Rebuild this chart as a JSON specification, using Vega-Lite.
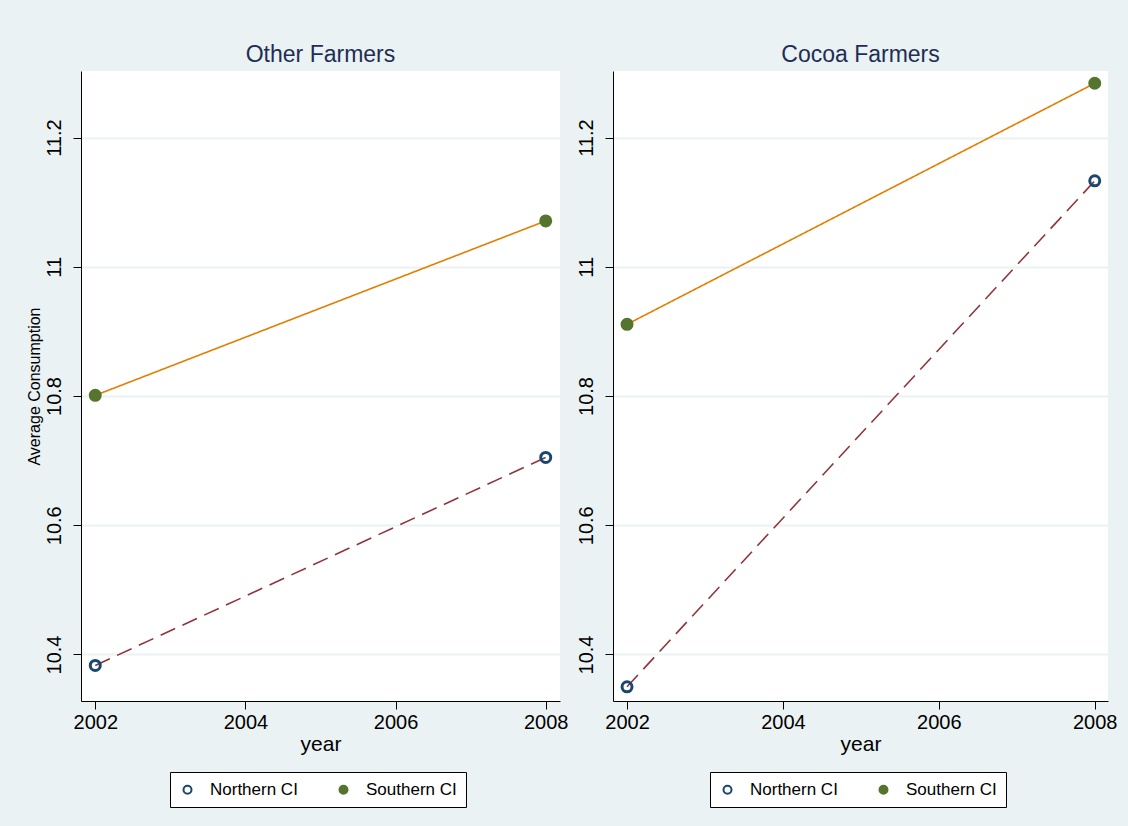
{
  "$schema": "https://vega.github.io/schema/vega-lite/v6.json",
  "background": "#eaf2f3",
  "padding": {"left": 26, "top": 44, "right": 16, "bottom": 20},
  "datasets": {
    "d": [
      {"panel": "Other Farmers", "group": "Northern CI", "year": 2002, "value": 10.383},
      {"panel": "Other Farmers", "group": "Northern CI", "year": 2008, "value": 10.705},
      {"panel": "Other Farmers", "group": "Southern CI", "year": 2002, "value": 10.801},
      {"panel": "Other Farmers", "group": "Southern CI", "year": 2008, "value": 11.071},
      {"panel": "Cocoa Farmers", "group": "Northern CI", "year": 2002, "value": 10.350},
      {"panel": "Cocoa Farmers", "group": "Northern CI", "year": 2008, "value": 11.133},
      {"panel": "Cocoa Farmers", "group": "Southern CI", "year": 2002, "value": 10.911},
      {"panel": "Cocoa Farmers", "group": "Southern CI", "year": 2008, "value": 11.284}
    ]
  },
  "config": {
    "font": "Liberation Sans",
    "view": {"fill": "white", "stroke": null},
    "title": {"fontSize": 23, "fontWeight": "normal", "color": "#1e2e55", "offset": 4},
    "axis": {
      "domainColor": "#000", "tickColor": "#000", "tickSize": 8, "labelColor": "#000",
      "labelFontSize": 20, "titleFontWeight": "normal", "titleColor": "#000"
    },
    "legend": {
      "orient": "none", "direction": "horizontal", "strokeColor": "#000", "fillColor": "white",
      "padding": 9, "columnPadding": 37, "labelFontSize": 17, "labelColor": "#000",
      "symbolSize": 64, "symbolStrokeWidth": 2, "labelOffset": 14
    }
  },
  "resolve": {
    "scale": {"fill": "independent", "stroke": "independent", "color": "independent", "strokeDash": "independent"},
    "legend": {"fill": "independent", "stroke": "independent"}
  },
  "spacing": 8,
  "hconcat": [
    {
      "title": "Other Farmers",
      "width": 479, "height": 630,
      "data": {"name": "d"},
      "transform": [{"filter": "datum.panel === 'Other Farmers'"}],
      "encoding": {
        "x": {"field": "year", "type": "quantitative",
              "scale": {"domain": [2001.81, 2008.19], "nice": false, "zero": false},
              "axis": {"values": [2002, 2004, 2006, 2008], "format": "d", "grid": false, "title": "year", "titleFontSize": 21, "labelPadding": 3, "titlePadding": 1}},
        "y": {"field": "value", "type": "quantitative",
              "scale": {"domain": [10.328, 11.303], "nice": false, "zero": false},
              "axis": {"values": [10.4, 10.6, 10.8, 11, 11.2], "format": "~g", "labelAngle": 270, "labelAlign": "center", "labelBaseline": "bottom", "labelPadding": 9,
                       "grid": true, "gridColor": "#eaf2f3", "gridWidth": 2,
                       "title": "Average Consumption", "titleFontSize": 16, "titlePadding": 2}}
      },
      "layer": [
        {"mark": {"type": "line", "strokeWidth": 1.6},
         "encoding": {
           "color": {"field": "group", "type": "nominal", "scale": {"domain": ["Southern CI", "Northern CI"], "range": ["#e37e00", "#90353b"]}, "legend": null},
           "strokeDash": {"field": "group", "type": "nominal", "scale": {"domain": ["Southern CI", "Northern CI"], "range": [[1, 0], [16, 8]]}, "legend": null}
         }},
        {"mark": {"type": "point", "shape": "circle", "filled": true, "size": 100, "strokeWidth": 3, "opacity": 1},
         "encoding": {
           "fill": {"field": "group", "type": "nominal", "scale": {"domain": ["Northern CI", "Southern CI"], "range": ["transparent", "#55752f"]}, "legend": {"title": null, "legendX": 89, "legendY": 701}},
           "stroke": {"field": "group", "type": "nominal", "scale": {"domain": ["Northern CI", "Southern CI"], "range": ["#1a476f", "#55752f"]}, "legend": {"title": null, "legendX": 89, "legendY": 701}}
         }}
      ]
    },
    {
      "title": "Cocoa Farmers",
      "width": 495, "height": 630,
      "data": {"name": "d"},
      "transform": [{"filter": "datum.panel === 'Cocoa Farmers'"}],
      "encoding": {
        "x": {"field": "year", "type": "quantitative",
              "scale": {"domain": [2001.82, 2008.17], "nice": false, "zero": false},
              "axis": {"values": [2002, 2004, 2006, 2008], "format": "d", "grid": false, "title": "year", "titleFontSize": 21, "labelPadding": 3, "titlePadding": 1}},
        "y": {"field": "value", "type": "quantitative",
              "scale": {"domain": [10.328, 11.303], "nice": false, "zero": false},
              "axis": {"values": [10.4, 10.6, 10.8, 11, 11.2], "format": "~g", "labelAngle": 270, "labelAlign": "center", "labelBaseline": "bottom", "labelPadding": 9,
                       "grid": true, "gridColor": "#eaf2f3", "gridWidth": 2, "title": null}}
      },
      "layer": [
        {"mark": {"type": "line", "strokeWidth": 1.6},
         "encoding": {
           "color": {"field": "group", "type": "nominal", "scale": {"domain": ["Southern CI", "Northern CI"], "range": ["#e37e00", "#90353b"]}, "legend": null},
           "strokeDash": {"field": "group", "type": "nominal", "scale": {"domain": ["Southern CI", "Northern CI"], "range": [[1, 0], [16, 8]]}, "legend": null}
         }},
        {"mark": {"type": "point", "shape": "circle", "filled": true, "size": 100, "strokeWidth": 3, "opacity": 1},
         "encoding": {
           "fill": {"field": "group", "type": "nominal", "scale": {"domain": ["Northern CI", "Southern CI"], "range": ["transparent", "#55752f"]}, "legend": {"title": null, "legendX": 97, "legendY": 701}},
           "stroke": {"field": "group", "type": "nominal", "scale": {"domain": ["Northern CI", "Southern CI"], "range": ["#1a476f", "#55752f"]}, "legend": {"title": null, "legendX": 97, "legendY": 701}}
         }}
      ]
    }
  ]
}
